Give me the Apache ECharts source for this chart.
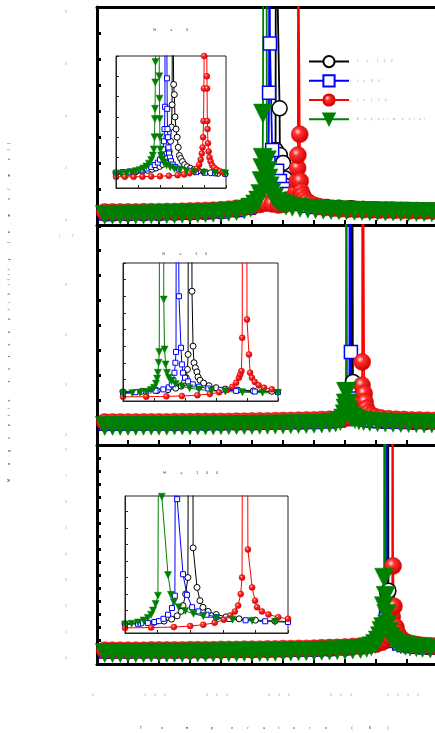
<!DOCTYPE html>
<html><head><meta charset="utf-8">
<script src="https://cdn.jsdelivr.net/npm/echarts@6/dist/echarts.min.js"></script>
<style>html,body{margin:0;padding:0;background:#fff}#c{width:435px;height:733px}</style>
</head><body><div id="c"></div>
<script>
// ---------- texts ----------
const seriesNames = ['L = 100', 'L=80', 'L=120', 'Experimental'];
const xTitle = 'Temperature (K)';
const yTitle = 'Magnetic susceptibility (emu/mol)';
const insetTitles = ['H = 0', 'H = 10', 'H = 100'];
const xTickLabels = [0, 200, 400, 600, 800, 1000];
const topYTicks = [0,1,2,3,4,5,6,7,8];
const topYLabels = [0,2,4,6,8];
const midYTicks = [0,1.5,3,4.5,6,7.5,9,10.5,12];
const midYLabels = [0,3,6,9,12];
const botYTicks = [0,0.5,1,1.5,2,2.5,3,3.5,4,4.5,5,5.5,6,6.5,7,7.5,8];
const botYLabels = [0,1,2,3,4,5,6,7,8];

// ---------- main panels: [T (K), value] ----------
const topBlack = [[28,0.05],[50,0.05],[100,0.06],[150,0.06],[200,0.07],[250,0.08],[300,0.09],[350,0.11],[400,0.14],[450,0.2],[500,0.3],[530,0.45],[550,0.6],[563,0.8],[570,1.1],[574,1.6],[576,2.5],[577,12],[580,12],[589,4.1],[590,2.3],[600,2.0],[606,1.4],[614,1.1],[624,0.88],[636,0.7],[650,0.57],[667,0.47],[687,0.4],[710,0.34],[740,0.3],[780,0.27],[820,0.25],[860,0.23],[900,0.21],[950,0.2],[1000,0.19],[1050,0.18],[1100,0.17]];
const topBlue = [[28,0.05],[50,0.05],[100,0.05],[150,0.06],[200,0.06],[250,0.07],[300,0.08],[350,0.1],[400,0.13],[450,0.19],[490,0.27],[515,0.38],[530,0.52],[540,0.7],[546,0.9],[550,1.2],[553,2.0],[555,4.7],[555.6,12],[557.5,12],[558,6.6],[565,2.5],[581,1.7],[590,1.3],[600,1.0],[612,0.8],[626,0.62],[642,0.5],[660,0.42],[680,0.35],[705,0.3],[740,0.27],[780,0.24],[820,0.22],[860,0.2],[900,0.19],[950,0.18],[1000,0.17],[1050,0.16],[1100,0.15]];
const topRed = [[25,0.11],[50,0.11],[75,0.11],[100,0.11],[125,0.11],[150,0.12],[175,0.12],[200,0.12],[225,0.13],[250,0.13],[275,0.14],[300,0.15],[325,0.16],[350,0.17],[375,0.18],[400,0.2],[425,0.22],[450,0.25],[475,0.29],[500,0.33],[525,0.4],[545,0.45],[565,0.42],[585,0.38],[605,0.4],[620,0.48],[630,0.58],[638,0.74],[643,0.9],[646,1.3],[647.3,1.8],[648,2.3],[648.6,12],[652.8,12],[654,3.1],[655.5,1.3],[658.5,0.9],[663,0.75],[669,0.62],[677,0.52],[687,0.44],[700,0.37],[715,0.32],[735,0.28],[760,0.25],[785,0.23],[810,0.22],[835,0.21],[860,0.2],[885,0.19],[910,0.18],[935,0.18],[960,0.17],[985,0.17],[1010,0.16],[1035,0.16],[1060,0.15],[1085,0.15],[1100,0.15]];
const topGreen = [[25,0.0],[50,0.0],[75,0.0],[100,0.01],[125,0.01],[150,0.01],[175,0.02],[200,0.02],[225,0.03],[250,0.03],[275,0.04],[300,0.05],[325,0.06],[350,0.07],[375,0.08],[400,0.1],[425,0.12],[450,0.15],[475,0.2],[495,0.28],[510,0.4],[520,0.55],[527,0.8],[531,1.3],[533.5,1.8],[534.5,2.2],[535.5,3.9],[536.5,12],[547,12],[548,2.1],[550,1.7],[553,1.4],[557,1.1],[563,0.85],[571,0.65],[582,0.5],[595,0.42],[610,0.36],[630,0.31],[655,0.27],[680,0.24],[705,0.22],[730,0.2],[755,0.19],[780,0.18],[805,0.17],[830,0.16],[855,0.15],[880,0.14],[905,0.14],[930,0.13],[955,0.13],[980,0.12],[1005,0.12],[1030,0.11],[1055,0.11],[1080,0.1],[1100,0.1]];

const midBlack = [[28,0.1],[50,0.1],[100,0.11],[150,0.11],[200,0.12],[250,0.12],[300,0.13],[350,0.13],[400,0.14],[450,0.15],[500,0.16],[550,0.17],[600,0.18],[650,0.2],[700,0.23],[750,0.28],[785,0.36],[805,0.48],[814,0.65],[818.5,0.95],[820.8,1.4],[822,2.2],[822.4,30],[824.4,30],[825.5,2.6],[827.5,1.6],[831,1.1],[837,0.75],[846,0.55],[858,0.42],[875,0.34],[895,0.29],[920,0.26],[950,0.24],[980,0.22],[1020,0.2],[1060,0.19],[1100,0.18]];
const midBlue = [[28,0.08],[50,0.08],[100,0.08],[150,0.09],[200,0.09],[250,0.1],[300,0.1],[350,0.11],[400,0.11],[450,0.12],[500,0.13],[550,0.14],[600,0.15],[650,0.17],[700,0.19],[750,0.22],[780,0.27],[798,0.37],[807,0.55],[811,0.8],[813,1.2],[814.2,2.0],[814.7,30],[816.5,30],[819,4.4],[820,1.6],[823,1.1],[828,0.75],[836,0.55],[848,0.42],[865,0.33],[885,0.28],[910,0.25],[940,0.22],[970,0.2],[1000,0.19],[1050,0.18],[1100,0.17]];
const midRed = [[25,0.18],[50,0.18],[75,0.18],[100,0.18],[125,0.18],[150,0.19],[175,0.19],[200,0.19],[225,0.19],[250,0.2],[275,0.2],[300,0.2],[325,0.21],[350,0.21],[375,0.21],[400,0.22],[425,0.22],[450,0.23],[475,0.23],[500,0.24],[525,0.25],[550,0.25],[575,0.26],[600,0.27],[625,0.28],[650,0.29],[675,0.3],[700,0.31],[725,0.33],[750,0.35],[775,0.38],[800,0.41],[820,0.46],[835,0.55],[845,0.7],[851,0.95],[853.8,1.4],[855,2.4],[855.5,3.8],[856,30],[860,30],[862,1.9],[865,1.4],[869,1.0],[875,0.75],[884,0.6],[897,0.5],[915,0.43],[940,0.38],[965,0.35],[990,0.33],[1015,0.31],[1040,0.3],[1065,0.29],[1090,0.28],[1100,0.28]];
const midGreen = [[25,-0.05],[50,-0.05],[75,-0.05],[100,-0.05],[125,-0.05],[150,-0.04],[175,-0.04],[200,-0.04],[225,-0.04],[250,-0.03],[275,-0.03],[300,-0.03],[325,-0.02],[350,-0.02],[375,-0.02],[400,-0.01],[425,-0.01],[450,0.0],[475,0.0],[500,0.01],[525,0.02],[550,0.02],[575,0.03],[600,0.04],[625,0.05],[650,0.06],[675,0.07],[700,0.08],[725,0.1],[750,0.12],[770,0.16],[785,0.24],[794,0.4],[799,0.65],[801.5,1.0],[802.5,1.3],[803.2,2.0],[803.6,30],[806,30],[806.5,2.0],[808,1.3],[811,0.9],[816,0.62],[823,0.46],[832,0.36],[845,0.29],[860,0.24],[880,0.2],[905,0.17],[930,0.15],[955,0.14],[980,0.13],[1005,0.12],[1030,0.11],[1055,0.1],[1080,0.1],[1100,0.1]];

const botBlack = [[28,0.07],[50,0.07],[100,0.07],[150,0.08],[200,0.08],[250,0.08],[300,0.09],[350,0.09],[400,0.1],[450,0.1],[500,0.11],[550,0.12],[600,0.13],[650,0.14],[700,0.15],[750,0.17],[800,0.2],[850,0.25],[890,0.34],[912,0.48],[925,0.7],[932,1.0],[935.3,1.5],[936.5,2.3],[937.2,30],[938.8,30],[940,2.4],[943,1.4],[948,0.95],[955,0.68],[965,0.5],[978,0.4],[995,0.33],[1015,0.29],[1040,0.26],[1070,0.23],[1100,0.21]];
const botBlue = [[28,0.06],[50,0.06],[100,0.06],[150,0.07],[200,0.07],[250,0.07],[300,0.08],[350,0.08],[400,0.09],[450,0.09],[500,0.1],[550,0.11],[600,0.12],[650,0.13],[700,0.14],[750,0.16],[800,0.19],[850,0.23],[890,0.32],[910,0.45],[922,0.65],[929,0.95],[932.5,1.5],[933.8,30],[935.2,30],[937,1.8],[940,1.15],[945,0.8],[952,0.6],[962,0.46],[975,0.37],[990,0.31],[1010,0.27],[1030,0.24],[1060,0.22],[1100,0.2]];
const botRed = [[25,0.11],[50,0.11],[75,0.11],[100,0.11],[125,0.11],[150,0.11],[175,0.12],[200,0.12],[225,0.12],[250,0.12],[275,0.12],[300,0.13],[325,0.13],[350,0.13],[375,0.13],[400,0.14],[425,0.14],[450,0.14],[475,0.15],[500,0.15],[525,0.15],[550,0.16],[575,0.16],[600,0.17],[625,0.17],[650,0.18],[675,0.18],[700,0.19],[725,0.2],[750,0.21],[775,0.22],[800,0.23],[825,0.25],[850,0.27],[875,0.3],[900,0.34],[920,0.42],[932,0.52],[940,0.66],[946,0.84],[950,1.05],[952.4,1.4],[953.3,30],[954.6,30],[955,3.35],[958,1.8],[964,1.0],[969,0.78],[975,0.64],[982,0.54],[990,0.47],[1000,0.41],[1012,0.37],[1025,0.34],[1040,0.31],[1055,0.29],[1070,0.28],[1085,0.27],[1100,0.26]];
const botGreen = [[25,0.0],[50,0.0],[75,0.0],[100,0.0],[125,0.0],[150,0.0],[175,0.01],[200,0.01],[225,0.01],[250,0.01],[275,0.01],[300,0.02],[325,0.02],[350,0.02],[375,0.02],[400,0.03],[425,0.03],[450,0.03],[475,0.04],[500,0.04],[525,0.04],[550,0.05],[575,0.05],[600,0.06],[625,0.06],[650,0.07],[675,0.07],[700,0.08],[725,0.09],[750,0.1],[775,0.11],[800,0.12],[825,0.14],[850,0.16],[870,0.2],[885,0.26],[897,0.35],[906,0.48],[913,0.65],[918,0.85],[923,1.0],[925.5,1.8],[926.3,2.9],[927,30],[930,30],[931,2.2],[933,1.5],[936,1.1],[941,0.82],[948,0.62],[957,0.48],[968,0.39],[980,0.33],[995,0.28],[1010,0.25],[1030,0.22],[1050,0.2],[1075,0.18],[1100,0.17]];

// ---------- insets: [T (K), value] ----------
const inTopBlack = [[440,0.22],[450,0.23],[465,0.25],[480,0.27],[495,0.3],[510,0.33],[522,0.37],[532,0.42],[541,0.48],[549,0.56],[556,0.66],[562,0.8],[567,1.0],[571,1.3],[574,1.8],[576,2.5],[577.5,3.6],[578.5,12],[580.5,12],[581,4.6],[582.5,4.1],[584,3.0],[586.5,2.4],[589,2.0],[591.5,1.5],[594,1.1],[597,0.95],[601,0.8],[606,0.65],[612,0.55],[619,0.47],[627,0.4],[637,0.34],[650,0.29],[665,0.25],[682,0.22],[698,0.2],[710,0.19]];
const inTopBlue = [[440,0.25],[450,0.26],[465,0.28],[480,0.31],[495,0.35],[508,0.4],[520,0.46],[530,0.54],[538,0.63],[545,0.75],[550,0.9],[554,1.1],[557,1.4],[559,1.8],[560.3,2.4],[561.2,3.5],[561.8,12],[565.3,12],[565.6,6.6],[566,4.9],[566.4,3.4],[567,2.4],[568,2.0],[569.2,1.5],[570.5,1.2],[572.5,1.0],[575,0.82],[579,0.66],[585,0.54],[593,0.45],[603,0.38],[616,0.32],[632,0.28],[652,0.25],[675,0.23],[698,0.21],[710,0.2]];
const inTopRed = [[440,0.05],[450,0.05],[470,0.05],[490,0.05],[510,0.06],[530,0.07],[550,0.08],[570,0.1],[590,0.13],[605,0.17],[617,0.23],[627,0.32],[634,0.45],[639,0.65],[642.5,0.9],[645,1.2],[646.8,1.5],[648,2.0],[649,2.8],[649.8,4.4],[650.3,6.0],[650.8,12],[656,12],[656.5,5.0],[657,4.4],[657.5,2.8],[658,2.4],[659,1.7],[660.5,1.3],[662.5,1.0],[665,0.8],[668.5,0.62],[673,0.5],[679,0.4],[686,0.33],[694,0.28],[710,0.22]];
const inTopGreen = [[440,0.15],[450,0.17],[462,0.2],[474,0.23],[485,0.27],[495,0.32],[504,0.38],[512,0.46],[519,0.56],[525,0.7],[530,0.88],[533.5,1.1],[536,1.4],[537.5,2.0],[538.3,2.9],[538.8,3.4],[539.3,4.7],[539.7,5.7],[540.2,12],[548,12],[548.4,5.0],[548.8,3.9],[549.3,2.9],[549.8,2.0],[550.8,1.4],[552.5,1.1],[555,0.9],[559,0.75],[565,0.62],[573,0.52],[583,0.44],[595,0.38],[610,0.33],[628,0.29],[650,0.26],[675,0.24],[698,0.22],[710,0.21]];

const inMidBlack = [[775,0.24],[780,0.25],[792,0.28],[802,0.32],[809,0.38],[814,0.47],[817.5,0.6],[819.5,0.8],[820.8,1.1],[821.6,1.6],[822,2.5],[822.3,30],[824.2,30],[824.5,6.3],[825.2,3.0],[825.8,2.0],[826.7,1.7],[827.7,1.45],[828.4,1.15],[829.7,0.95],[832,0.78],[835.5,0.62],[840,0.5],[846,0.42],[854,0.36],[864,0.31],[876,0.28],[885,0.27]];
const inMidBlue = [[775,0.19],[780,0.2],[788,0.23],[795,0.27],[801,0.32],[806,0.4],[809.5,0.52],[811.5,0.7],[812.5,0.95],[813.2,1.4],[813.8,2.0],[814.2,2.65],[814.6,30],[815.8,30],[816.1,6.0],[817.4,2.9],[818,1.9],[818.7,1.4],[820,1.1],[822,0.88],[825,0.7],[829,0.56],[835,0.45],[843,0.37],[853,0.31],[865,0.27],[880,0.24],[885,0.24]];
const inMidRed = [[775,-0.05],[780,-0.05],[795,-0.04],[808,-0.02],[818,0.0],[828,0.05],[836,0.12],[842,0.22],[847,0.36],[850.5,0.55],[853,0.8],[854.8,1.1],[855.6,1.3],[856.4,1.5],[856.9,3.5],[857.3,30],[859.7,30],[860,4.6],[861.3,2.5],[862,1.4],[863.2,1.1],[865,0.85],[867.5,0.65],[871,0.5],[876,0.4],[882,0.33],[890,0.3]];
const inMidGreen = [[775,0.13],[780,0.15],[786,0.17],[791,0.2],[795,0.26],[798,0.36],[800,0.5],[801.3,0.75],[802,1.05],[802.5,1.4],[803,2.0],[803.4,2.65],[803.8,30],[806,30],[806.3,5.8],[806.8,2.8],[807.5,1.9],[808.4,1.4],[809.6,1.1],[811.3,0.9],[814,0.72],[818,0.58],[823,0.47],[829,0.39],[837,0.32],[846,0.27],[857,0.23],[870,0.2],[880,0.18],[885,0.18]];

const inBotBlack = [[915,0.18],[920,0.2],[925,0.24],[929,0.29],[932,0.36],[934.3,0.48],[936,0.68],[937.2,0.95],[937.8,1.3],[938.6,2.0],[939.3,3.0],[939.6,30],[940.6,30],[940.9,4.8],[942.1,2.4],[943,1.6],[943.9,1.2],[945.5,0.95],[948,0.76],[951,0.62],[955,0.5],[960,0.42],[966,0.36],[972,0.32]];
const inBotBlue = [[915,0.13],[920,0.15],[924,0.2],[927,0.25],[929,0.3],[930.4,0.36],[931.8,0.5],[933.2,0.75],[934.4,1.15],[935.3,1.9],[935.7,30],[935.9,30],[936,7.75],[937.8,3.2],[939,1.95],[940.6,1.2],[942.5,0.95],[945,0.75],[948,0.6],[952,0.49],[957,0.41],[963,0.35],[970,0.31],[975,0.3]];
const inBotRed = [[915,-0.05],[920,-0.05],[928,-0.03],[935,0.0],[940,0.06],[944,0.14],[947.5,0.26],[950.3,0.45],[952.3,0.7],[953.7,0.95],[954.7,1.3],[955.5,2.0],[955.9,3.0],[956.3,30],[957.4,30],[957.7,4.7],[959,2.4],[959.9,1.6],[960.5,1.2],[962,0.95],[964,0.76],[967,0.6],[970,0.5],[975,0.42]];
const inBotGreen = [[915,0.12],[920,0.15],[922,0.2],[924,0.28],[925.7,0.4],[927,0.55],[928,0.75],[928.6,1.0],[929.4,1.4],[930.1,1.9],[930.6,30],[931.1,30],[931.3,7.9],[933.2,3.15],[934.1,1.95],[935,1.5],[936.5,1.2],[938.5,0.98],[941,0.8],[944,0.66],[948,0.54],[953,0.45],[959,0.38],[966,0.32],[972,0.29]];

// ---------- tiny spaced text helper ----------
const RICH = {};
const mctx = document.createElement('canvas').getContext('2d');
function sp(str, em) {
  mctx.font = em + 'px "Liberation Sans"';
  let out = '';
  for (const ch of str) {
    const w = Math.max(1, Math.round(mctx.measureText(ch).width));
    const k = 'w' + w;
    if (!RICH[k]) RICH[k] = {width: w, align: 'center', fontSize: 3, color: '#999', fontFamily: 'Liberation Sans', lineHeight: 4};
    out += '{' + k + '|' + (ch === ' ' ? '\u00a0' : ch) + '}';
  }
  return out;
}
const xLab = {}; xTickLabels.forEach(v => xLab[v] = sp(String(v), 18));
const yLab = {}; [...new Set([...topYLabels, ...midYLabels, ...botYLabels])].forEach(v => yLab[v] = sp(String(v), 23));
const legLab = {}; seriesNames.forEach(n => legLab[n] = sp(n, 12));
const xTitleR = sp(xTitle, 36), yTitleR = sp(yTitle, 24);
const insetR = insetTitles.map(t => sp(t, 18));

// ---------- layout ----------
const mainGrids = [
  {left: 97, width: 341, top: 7, height: 218},
  {left: 97, width: 341, top: 225, height: 220},
  {left: 97, width: 341, top: 445, height: 219}
];
const insetGrids = [
  {left: 116, top: 56, width: 110, height: 132},
  {left: 123, top: 263, width: 155, height: 138},
  {left: 125, top: 496, width: 163, height: 137}
];
const mainY = [
  {min: -0.39, max: 8, ticks: topYTicks, labels: topYLabels, pad: 10},
  {min: -1.2, max: 12.05, ticks: midYTicks, labels: midYLabels, pad: 20},
  {min: -0.42, max: 8, ticks: botYTicks, labels: botYLabels, pad: 10}
];
const insetX = [{min: 450, max: 700, interval: 50}, {min: 780, max: 880, interval: 20}, {min: 920, max: 970, interval: 10}];
const insetY = [{min: -0.5, max: 6, ticks: [0,1,2,3,4,5,6]}, {min: -0.3, max: 8, ticks: [0,1,2,3,4,5,6,7,8]}, {min: -0.36, max: 7.94, ticks: [0,1,2,3,4,5,6,7]}];

const grid = [], xAxis = [], yAxis = [];
mainGrids.forEach((g, i) => {
  grid.push(Object.assign({show: false, outerBoundsMode: 'none', containLabel: false, z: 0}, g));
  xAxis.push({gridIndex: i, type: 'value', min: 0, max: 1100, interval: 100,
    axisLine: {show: true, onZero: false, lineStyle: {color: '#000', width: 3}},
    axisTick: {show: true, inside: true, length: 5, lineStyle: {color: '#000', width: 2}},
    axisLabel: {show: i === 2, margin: 29, interval: 1, formatter: v => xLab[v] || '', rich: RICH, padding: [0, 8, 0, 0]},
    splitLine: {show: false}});
  const my = mainY[i];
  yAxis.push({gridIndex: i, type: 'value', min: my.min, max: my.max,
    axisLine: {show: true, onZero: false, lineStyle: {color: '#000', width: 3}},
    axisTick: {show: true, inside: true, length: 4, lineStyle: {color: '#000', width: 3}, customValues: my.ticks},
    axisLabel: {show: true, customValues: my.labels, formatter: v => yLab[v] || '', rich: RICH, align: 'center', margin: 31, padding: [my.pad, 0, 0, 0]},
    splitLine: {show: false}});
});
insetGrids.forEach((g, i) => {
  grid.push(Object.assign({show: true, outerBoundsMode: 'none', containLabel: false, borderColor: '#222', borderWidth: 1, backgroundColor: '#fff', z: 10}, g));
  xAxis.push({gridIndex: 3 + i, type: 'value', min: insetX[i].min, max: insetX[i].max, interval: insetX[i].interval, z: 12,
    axisLine: {show: true, onZero: false, lineStyle: {color: '#222', width: 1}},
    axisTick: {show: true, inside: true, length: 3, lineStyle: {color: '#222', width: 1}},
    axisLabel: {show: false}, splitLine: {show: false}});
  yAxis.push({gridIndex: 3 + i, type: 'value', min: insetY[i].min, max: insetY[i].max, z: 12,
    axisLine: {show: true, onZero: false, lineStyle: {color: '#222', width: 1}},
    axisTick: {show: true, inside: true, length: 3, lineStyle: {color: '#222', width: 1}, customValues: insetY[i].ticks},
    axisLabel: {show: false}, splitLine: {show: false}});
});
// top frame line of the upper panel
xAxis.push({gridIndex: 0, type: 'value', position: 'top', min: 0, max: 1100,
  axisLine: {show: true, onZero: false, lineStyle: {color: '#000', width: 3}},
  axisTick: {show: false}, axisLabel: {show: false}, splitLine: {show: false}});

const redBall = {type: 'radial', x: 0.38, y: 0.35, r: 0.65, colorStops: [{offset: 0, color: '#ffe0e0'}, {offset: 0.3, color: '#ff3030'}, {offset: 1, color: '#d00000'}]};
const styles = [
  {symbol: 'circle', main: 15, ins: 6, rot: 0, color: '#000', fill: '#fff', border: true},
  {symbol: 'rect', main: 13, ins: 5, rot: 0, color: '#0000ff', fill: '#fff', border: true},
  {symbol: 'circle', main: 17, ins: 6, rot: 0, color: '#ff0000', fill: redBall, border: false},
  {symbol: 'triangle', main: 19, ins: 7, rot: 180, color: '#008000', fill: '#008000', border: false}
];
const mainPanels = [[topBlack, topBlue, topRed, topGreen], [midBlack, midBlue, midRed, midGreen], [botBlack, botBlue, botRed, botGreen]];
const insetPanels = [[inTopBlack, inTopBlue, inTopRed, inTopGreen], [inMidBlack, inMidBlue, inMidRed, inMidGreen], [inBotBlack, inBotBlue, inBotRed, inBotGreen]];
const series = [];
function mk(name, data, gi, st, inset) {
  return {type: 'line', name: name, data: data, xAxisIndex: gi, yAxisIndex: gi,
    symbol: st.symbol, symbolSize: inset ? st.ins : st.main, symbolRotate: st.rot,
    showAllSymbol: true, clip: true, z: inset ? 11 : 2, animation: false,
    lineStyle: {color: st.color, width: inset ? 1 : 1.8},
    itemStyle: {color: st.fill, borderColor: st.border ? st.color : (st.symbol === 'circle' ? '#e00000' : st.color), borderWidth: st.border ? (inset ? 1 : 1.5) : 0.5, opacity: 1},
    emphasis: {disabled: true}};
}
mainPanels.forEach((p, pi) => p.forEach((d, si) => series.push(mk(seriesNames[si], d, pi, styles[si], false))));
insetPanels.forEach((p, pi) => p.forEach((d, si) => series.push(mk(seriesNames[si], d, 3 + pi, styles[si], true))));

const chart = echarts.init(document.getElementById('c'), null, {renderer: 'canvas'});
chart.setOption({
  animation: false,
  backgroundColor: '#fff',
  grid, xAxis, yAxis, series,
  legend: {data: seriesNames, left: 303, top: 50, orient: 'vertical', itemWidth: 40, itemHeight: 14, itemGap: 6,
    selectedMode: false, formatter: n => legLab[n], textStyle: {rich: RICH}, z: 20},
  graphic: [
    {type: 'text', x: 262, y: 728, z: 20, style: {text: xTitleR, rich: RICH, align: 'center', verticalAlign: 'middle'}},
    {type: 'text', x: 9, y: 315, rotation: Math.PI / 2, z: 20, style: {text: yTitleR, rich: RICH, align: 'center', verticalAlign: 'middle'}},
    {type: 'text', x: 170, y: 30, z: 20, style: {text: insetR[0], rich: RICH, align: 'center', verticalAlign: 'middle'}},
    {type: 'text', x: 184, y: 254, z: 20, style: {text: insetR[1], rich: RICH, align: 'center', verticalAlign: 'middle'}},
    {type: 'text', x: 190, y: 473, z: 20, style: {text: insetR[2], rich: RICH, align: 'center', verticalAlign: 'middle'}}
  ]
});
</script></body></html>
